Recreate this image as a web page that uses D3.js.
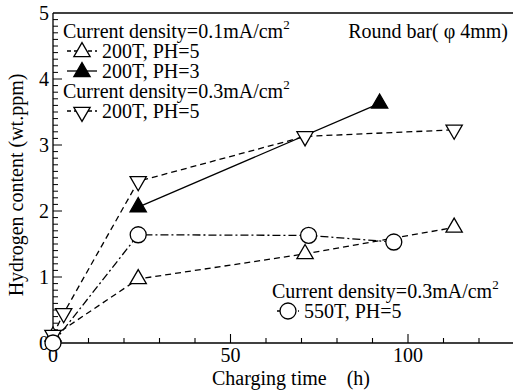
<!DOCTYPE html>
<html>
<head>
<meta charset="utf-8">
<script src="https://cdn.jsdelivr.net/npm/d3@7"></script>
<style>
  body { margin: 0; background: #fff; }
  svg { display: block; }
  text { font-family: "Liberation Serif", "Times New Roman", serif; fill: #000; }
</style>
</head>
<body>
<svg id="chart" width="513" height="392"></svg>
<script>
// Data
const xTicks = [0, 50, 100];
const yTicks = [0, 1, 2, 3, 4, 5];

const triUpTime = [0, 24, 71, 113];
const triUpH = [0.1, 0.97, 1.35, 1.75];

const triFillTime = [24, 92];
const triFillH = [2.06, 3.63];

const triDownTime = [0, 3, 24, 71, 113];
const triDownH = [0.12, 0.45, 2.45, 3.13, 3.23];

const circTime = [0, 24, 72, 96];
const circH = [0, 1.64, 1.63, 1.53];

const series = [
  { name: '200T, PH=5', t: triUpTime, h: triUpH, shape: 'up', fill: '#fff', dash: '6,4' },
  { name: '200T, PH=3', t: triFillTime, h: triFillH, shape: 'up', fill: '#000', dash: null },
  { name: '200T, PH=5', t: triDownTime, h: triDownH, shape: 'down', fill: '#fff', dash: '6,4' },
  { name: '550T, PH=5', t: circTime, h: circH, shape: 'circle', fill: '#fff', dash: '8,3,2,3' }
];

const FS = '20px';
const svg = d3.select('#chart');
const x = d3.scaleLinear().domain([0, 130]).range([53, 514.5]);
const y = d3.scaleLinear().domain([0, 5]).range([343, 13]);

// Frame + axes (ticks point inward)
const xAxis = svg.append('g').attr('transform', `translate(0,${y(0)})`);
xAxis.append('line').attr('x1', x(0)).attr('x2', x(130)).attr('stroke', '#000').attr('stroke-width', 1.3);
xAxis.selectAll('.minor')
  .data(d3.range(10, 130, 10))
  .enter().append('line')
  .attr('x1', d => x(d)).attr('x2', d => x(d))
  .attr('y1', 0).attr('y2', d => d % 50 === 0 ? -9 : -5)
  .attr('stroke', '#000').attr('stroke-width', 1.1);
xAxis.selectAll('.lbl')
  .data(xTicks)
  .enter().append('text')
  .attr('x', d => x(d)).attr('y', 19)
  .attr('text-anchor', 'middle')
  .style('font-size', FS)
  .text(d => d);

const yAxis = svg.append('g').attr('transform', `translate(${x(0)},0)`);
yAxis.append('line').attr('y1', y(0)).attr('y2', y(5)).attr('stroke', '#000').attr('stroke-width', 1.3);
yAxis.selectAll('.minor')
  .data(d3.range(1, 50))
  .enter().append('line')
  .attr('y1', d => y(d / 10)).attr('y2', d => y(d / 10))
  .attr('x1', 0).attr('x2', d => d % 10 === 0 ? 9 : 5)
  .attr('stroke', '#000').attr('stroke-width', 1);
yAxis.selectAll('.lbl')
  .data(yTicks)
  .enter().append('text')
  .attr('x', -4).attr('y', d => y(d) + 7)
  .attr('text-anchor', 'end')
  .style('font-size', FS)
  .text(d => d);

// top frame line
svg.append('line')
  .attr('x1', x(0)).attr('x2', x(130))
  .attr('y1', y(5)).attr('y2', y(5))
  .attr('stroke', '#000').attr('stroke-width', 1.3);

// Axis titles
svg.append('text')
  .attr('x', 291).attr('y', 385)
  .attr('text-anchor', 'middle')
  .style('font-size', FS)
  .text('Charging time　(h)');

svg.append('text')
  .attr('transform', 'translate(23,185) rotate(-90)')
  .attr('text-anchor', 'middle')
  .style('font-size', FS)
  .text('Hydrogen content (wt.ppm)');

// Markers
const triPath = d3.symbol().type(d3.symbolTriangle).size(115);
const drawMarker = (g, shape, fill, cx, cy) => {
  if (shape === 'circle') {
    g.append('circle').attr('cx', cx).attr('cy', cy).attr('r', 8)
      .attr('fill', fill).attr('stroke', '#000').attr('stroke-width', 1.3);
  } else {
    g.append('path').attr('d', triPath())
      .attr('transform', `translate(${cx},${cy})` + (shape === 'down' ? ' rotate(180)' : ''))
      .attr('fill', fill).attr('stroke', '#000').attr('stroke-width', 1.3);
  }
};

// Lines
const line = d3.line().x(d => x(d[0])).y(d => y(d[1]));
series.forEach(s => {
  const pts = s.t.map((t, i) => [t, s.h[i]]);
  svg.append('path')
    .attr('d', line(pts))
    .attr('fill', 'none')
    .attr('stroke', '#000')
    .attr('stroke-width', 1.3)
    .attr('stroke-dasharray', s.dash);
});
series.forEach(s => {
  const g = svg.append('g');
  s.t.forEach((t, i) => drawMarker(g, s.shape, s.fill, x(t), y(s.h[i])));
});

// Legend
const legendText = (tx, ty, txt) => {
  const t = svg.append('text').attr('x', tx).attr('y', ty).style('font-size', FS);
  t.append('tspan').text(txt);
  t.append('tspan').attr('dy', -9).style('font-size', '13px').text('2');
  return t;
};
const legendEntry = (x0, ty, s, lineLen) => {
  const cy = ty - 7;
  svg.append('line')
    .attr('x1', x0).attr('x2', x0 + lineLen)
    .attr('y1', cy).attr('y2', cy)
    .attr('stroke', '#000').attr('stroke-width', 1.3)
    .attr('stroke-dasharray', s.dash ? '4,3' : null);
  const g = svg.append('g');
  drawMarker(g, s.shape, s.fill, x0 + lineLen / 2, cy + (s.shape === 'circle' ? 0 : 1));
  svg.append('text').attr('x', x0 + lineLen + 5).attr('y', ty)
    .style('font-size', FS).text(s.name);
};

legendText(63, 38, 'Current density=0.1mA/cm');
legendEntry(67, 58, series[0], 30);
legendEntry(67, 78, series[1], 30);
legendText(63, 98, 'Current density=0.3mA/cm');
legendEntry(67, 118, series[2], 30);

legendText(272, 298, 'Current density=0.3mA/cm');
legendEntry(277, 318, series[3], 22);

svg.append('text')
  .attr('x', 508).attr('y', 38)
  .attr('text-anchor', 'end')
  .style('font-size', FS)
  .text('Round bar( φ 4mm)');
</script>
</body>
</html>
